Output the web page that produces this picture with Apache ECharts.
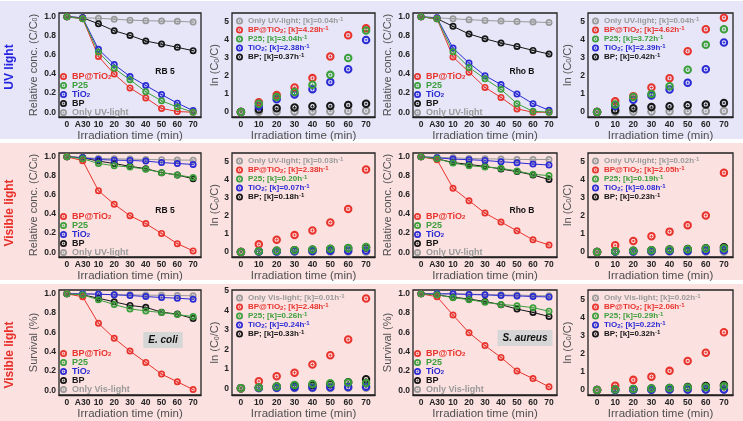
<!DOCTYPE html>
<html lang="en">
<head>
<meta charset="UTF-8"/>
<title>Photocatalytic degradation and kinetics</title>
<script src="https://cdn.jsdelivr.net/npm/echarts@6/dist/echarts.min.js"></script>
<style>
    html, body { margin: 0; padding: 0; background: #fff; }
    #chart { width: 743px; height: 421px; }
</style>
</head>
<body>
<div id="chart"></div>
<script type="text/javascript">
    // x categories
    var concX = ['0', 'A30', '10', '20', '30', '40', '50', '60', '70'];
    var lnX = ['0', '10', '20', '30', '40', '50', '60', '70'];
    var concTicks = [0, 0.2, 0.4, 0.6, 0.8, 1.0];
    var lnTicks = [0, 1, 2, 3, 4, 5];

    // RB 5, UV light, C/C0
    var rb5UvLight  = [1.00, 0.99, 0.985, 0.975, 0.965, 0.96, 0.955, 0.953, 0.945];
    var rb5UvBp     = [1.00, 0.99, 0.927, 0.854, 0.805, 0.746, 0.714, 0.68, 0.645];
    var rb5UvTiO2   = [1.00, 0.99, 0.66, 0.50, 0.375, 0.28, 0.185, 0.095, 0.017];
    var rb5UvP25    = [1.00, 0.98, 0.63, 0.46, 0.34, 0.215, 0.12, 0.055, 0.0];
    var rb5UvBpTiO2 = [1.00, 0.98, 0.585, 0.40, 0.255, 0.15, 0.04, 0.007, 0.0];
    // RB 5, UV light, ln(C0/C)
    var rb5UvKLight  = [0, 0.01, 0.02, 0.03, 0.03, 0.04, 0.05, 0.06];
    var rb5UvKBp     = [0, 0.13, 0.20, 0.25, 0.31, 0.33, 0.38, 0.45];
    var rb5UvKTiO2   = [0, 0.32, 0.70, 0.97, 1.26, 1.65, 2.36, 3.98];
    var rb5UvKP25    = [0, 0.45, 0.82, 1.10, 1.50, 2.05, 2.98, 4.50];
    var rb5UvKBpTiO2 = [0, 0.53, 0.93, 1.35, 1.87, 3.07, 4.24, 4.62];
    var rb5UvK = [0.04, 4.28, 3.04, 2.38, 0.37];

    // Rho B, UV light
    var rhoUvLight  = [1.00, 0.99, 0.98, 0.97, 0.962, 0.955, 0.95, 0.946, 0.94];
    var rhoUvBp     = [1.00, 0.98, 0.90, 0.82, 0.77, 0.725, 0.69, 0.648, 0.61];
    var rhoUvTiO2   = [1.00, 0.99, 0.672, 0.516, 0.383, 0.29, 0.19, 0.09, 0.02];
    var rhoUvP25    = [1.00, 0.98, 0.635, 0.47, 0.35, 0.24, 0.09, 0.01, 0.0];
    var rhoUvBpTiO2 = [1.00, 0.98, 0.58, 0.42, 0.26, 0.155, 0.035, 0.0, 0.0];
    var rhoUvKLight  = [0, 0.01, 0.02, 0.03, 0.04, 0.04, 0.05, 0.06];
    var rhoUvKBp     = [0, 0.10, 0.20, 0.27, 0.32, 0.37, 0.42, 0.50];
    var rhoUvKTiO2   = [0, 0.33, 0.68, 0.92, 1.25, 1.62, 2.37, 3.86];
    var rhoUvKP25    = [0, 0.42, 0.83, 1.00, 1.43, 2.35, 3.73, 4.60];
    var rhoUvKBpTiO2 = [0, 0.59, 0.88, 1.36, 1.88, 3.38, 4.60, 5.24];
    var rhoUvK = [0.04, 4.62, 3.72, 2.39, 0.42];

    // RB 5, visible light
    var rb5VisLight  = [1.00, 0.995, 0.983, 0.98, 0.976, 0.972, 0.97, 0.966, 0.965];
    var rb5VisBp     = [1.00, 0.99, 0.955, 0.93, 0.90, 0.876, 0.834, 0.81, 0.77];
    var rb5VisTiO2   = [1.00, 0.99, 0.972, 0.965, 0.962, 0.955, 0.94, 0.93, 0.92];
    var rb5VisP25    = [1.00, 0.98, 0.93, 0.907, 0.893, 0.87, 0.834, 0.81, 0.783];
    var rb5VisBpTiO2 = [1.00, 0.96, 0.645, 0.503, 0.383, 0.30, 0.197, 0.09, 0.014];
    var rb5VisKLight  = [0, 0.01, 0.01, 0.02, 0.02, 0.02, 0.03, 0.03];
    var rb5VisKBp     = [0, 0.04, 0.07, 0.10, 0.12, 0.16, 0.20, 0.24];
    var rb5VisKTiO2   = [0, 0.02, 0.03, 0.04, 0.05, 0.06, 0.07, 0.08];
    var rb5VisKP25    = [0, 0.04, 0.07, 0.09, 0.13, 0.18, 0.22, 0.27];
    var rb5VisKBpTiO2 = [0, 0.42, 0.68, 0.93, 1.19, 1.63, 2.38, 4.56];
    var rb5VisK = [0.03, 2.38, 0.20, 0.07, 0.18];

    // Rho B, visible light
    var rhoVisLight  = [1.00, 0.995, 0.99, 0.983, 0.98, 0.976, 0.972, 0.972, 0.972];
    var rhoVisBp     = [1.00, 0.98, 0.94, 0.92, 0.90, 0.872, 0.845, 0.81, 0.762];
    var rhoVisTiO2   = [1.00, 0.99, 0.976, 0.97, 0.962, 0.948, 0.938, 0.924, 0.914];
    var rhoVisP25    = [1.00, 0.98, 0.934, 0.907, 0.893, 0.88, 0.852, 0.817, 0.803];
    var rhoVisBpTiO2 = [1.00, 0.97, 0.67, 0.54, 0.41, 0.317, 0.224, 0.13, 0.076];
    var rhoVisKLight  = [0, 0.01, 0.01, 0.01, 0.02, 0.02, 0.02, 0.03];
    var rhoVisKBp     = [0, 0.04, 0.07, 0.10, 0.13, 0.16, 0.20, 0.26];
    var rhoVisKTiO2   = [0, 0.02, 0.03, 0.04, 0.05, 0.06, 0.07, 0.09];
    var rhoVisKP25    = [0, 0.04, 0.07, 0.10, 0.12, 0.15, 0.19, 0.21];
    var rhoVisKBpTiO2 = [0, 0.37, 0.61, 0.87, 1.13, 1.49, 2.03, 4.40];
    var rhoVisK = [0.02, 2.05, 0.19, 0.08, 0.23];

    // E. coli survival
    var ecoliLight  = [1.00, 1.00, 0.995, 0.992, 0.99, 0.987, 0.985, 0.982, 0.98];
    var ecoliBp     = [1.00, 0.99, 0.955, 0.917, 0.88, 0.86, 0.81, 0.79, 0.743];
    var ecoliTiO2   = [1.00, 1.00, 0.997, 0.99, 0.983, 0.972, 0.962, 0.955, 0.944];
    var ecoliP25    = [1.00, 0.99, 0.938, 0.89, 0.844, 0.823, 0.806, 0.785, 0.764];
    var ecoliBpTiO2 = [1.00, 0.97, 0.694, 0.538, 0.406, 0.288, 0.167, 0.087, 0.007];
    var ecoliKLight  = [0, 0.0, 0.01, 0.01, 0.01, 0.01, 0.02, 0.02];
    var ecoliKBp     = [0, 0.04, 0.09, 0.12, 0.15, 0.20, 0.31, 0.46];
    var ecoliKTiO2   = [0, 0.01, 0.02, 0.03, 0.04, 0.05, 0.06, 0.07];
    var ecoliKP25    = [0, 0.04, 0.09, 0.17, 0.22, 0.25, 0.29, 0.27];
    var ecoliKBpTiO2 = [0, 0.36, 0.61, 0.80, 1.22, 1.69, 2.50, 4.61];
    var ecoliK = [0.01, 2.48, 0.26, 0.24, 0.33];

    // S. aureus survival
    var saureusLight  = [1.00, 1.00, 1.00, 0.997, 0.993, 0.99, 0.987, 0.983, 0.98];
    var saureusBp     = [1.00, 0.99, 0.965, 0.947, 0.92, 0.888, 0.842, 0.807, 0.765];
    var saureusTiO2   = [1.00, 1.00, 1.00, 0.993, 0.99, 0.982, 0.979, 0.972, 0.968];
    var saureusP25    = [1.00, 0.99, 0.96, 0.94, 0.912, 0.89, 0.877, 0.856, 0.82];
    var saureusBpTiO2 = [1.00, 0.97, 0.78, 0.596, 0.463, 0.34, 0.20, 0.12, 0.035];
    var saureusKLight  = [0, 0.0, 0.0, 0.01, 0.01, 0.01, 0.02, 0.02];
    var saureusKBp     = [0, 0.04, 0.05, 0.08, 0.11, 0.17, 0.22, 0.27];
    var saureusKTiO2   = [0, 0.0, 0.01, 0.01, 0.02, 0.02, 0.03, 0.03];
    var saureusKP25    = [0, 0.03, 0.05, 0.08, 0.11, 0.14, 0.17, 0.20];
    var saureusKBpTiO2 = [0, 0.24, 0.56, 0.74, 1.06, 1.61, 2.07, 3.20];
    var saureusK = [0.02, 2.06, 0.29, 0.22, 0.32];

    // layout
    var FONT = '"Liberation Sans", Arial, sans-serif';
    var rowTop = [13, 153, 290];
    var rowHeight = [104, 104, 105];
    var colLeft = [59, 232, 413, 588];
    var colWidth = [142, 143, 144, 145];
    var C = {light: '#9a9a9a', bp: '#161616', tio2: '#2a2ad4', p25: '#3b9f3b', bptio2: '#e8332c'};
    // ring with a small cross in the middle
    var MARK = 'path://M0,-10A10,10,0,1,1,0,10A10,10,0,1,1,0,-10Z' +
        'M0,-5.2A5.2,5.2,0,1,0,0,5.2A5.2,5.2,0,1,0,0,-5.2Z' +
        'M-1,-3.1L1,-3.1L1,-1L3.1,-1L3.1,1L1,1L1,3.1L-1,3.1L-1,1L-3.1,1L-3.1,-1L-1,-1Z';

    var grids = [], xAxes = [], yAxes = [], series = [], legends = [], graphics = [];

    function richFor(color) {
        return {
            sub: {fontSize: 6, lineHeight: 3, verticalAlign: 'bottom', color: color, fontWeight: 'bold', fontFamily: FONT},
            sup: {fontSize: 6, lineHeight: 3, verticalAlign: 'top', color: color, fontWeight: 'bold', fontFamily: FONT}
        };
    }
    function fmt(s) {
        return s.replace('TiO2', 'TiO{sub|2}').replace('h-1', 'h{sup|-1}');
    }

    function addGrid(r, c, yName, yGap, yMin, yMax, ticks, xData, digits) {
        var gi = grids.length;
        grids.push({left: colLeft[c], top: rowTop[r], width: colWidth[c], height: rowHeight[r],
            show: true, borderColor: '#222', borderWidth: 1.3, backgroundColor: 'transparent'});
        xAxes.push({
            gridIndex: gi, type: 'category', data: xData, boundaryGap: true,
            name: 'Irradiation time (min)', nameLocation: 'middle', nameGap: 11,
            nameTextStyle: {fontSize: 11.5, fontWeight: 'normal', color: '#505050', fontFamily: FONT},
            axisLine: {onZero: false, lineStyle: {color: '#222', width: 1.3}},
            axisTick: {alignWithLabel: true, length: 3, lineStyle: {color: '#222'}},
            axisLabel: {interval: 0, fontSize: 8.5, fontWeight: 'bold', color: '#222', margin: 3, fontFamily: FONT},
            splitLine: {show: false}
        });
        yAxes.push({
            gridIndex: gi, type: 'value', min: yMin, max: yMax,
            name: yName, nameLocation: 'middle', nameRotate: 90, nameGap: yGap,
            nameTextStyle: {fontSize: 11, fontWeight: 'normal', color: '#505050', fontFamily: FONT,
                rich: {sub: {fontSize: 7, lineHeight: 4, verticalAlign: 'bottom', color: '#505050', fontFamily: FONT}}},
            axisLine: {onZero: false, lineStyle: {color: '#222', width: 1.3}},
            axisTick: {length: 3, customValues: ticks, lineStyle: {color: '#222'}},
            axisLabel: {customValues: ticks, fontSize: 8.5, fontWeight: 'bold', color: '#222', margin: 3, fontFamily: FONT,
                formatter: function (v) { return v.toFixed(digits); }},
            splitLine: {show: false}
        });
        return gi;
    }

    function concPanel(r, c, light, bp, tio2, p25, bptio2, lightName, yName) {
        var gi = addGrid(r, c, yName, 20, -0.05, 1.04, concTicks, concX, 1);
        var set = [[lightName, light, C.light], ['BP', bp, C.bp], ['TiO2', tio2, C.tio2],
                   ['BP@TiO2', bptio2, C.bptio2], ['P25', p25, C.p25]];
        set.forEach(function (s) {
            series.push({type: 'line', name: s[0], xAxisIndex: gi, yAxisIndex: gi, data: s[1],
                symbol: MARK, symbolSize: 7, lineStyle: {width: 1, color: s[2]}, itemStyle: {color: s[2]}});
        });
        var order = [['BP@TiO2', C.bptio2], ['P25', C.p25], ['TiO2', C.tio2], ['BP', C.bp], [lightName, C.light]];
        legends.push({
            orient: 'vertical', left: colLeft[c] + 1, top: rowTop[r] + 59, padding: 0, itemGap: 0,
            itemWidth: 7, itemHeight: 7, icon: MARK, selectedMode: false,
            textStyle: {fontSize: 9, fontWeight: 'bold', lineHeight: 8.6, fontFamily: FONT},
            formatter: fmt,
            data: order.map(function (o) {
                return {name: o[0], textStyle: {color: o[1], rich: richFor(o[1])}};
            })
        });
    }

    function lnPanel(r, c, light, bp, tio2, p25, bptio2, k, lightName, yMin, yMax, yGap) {
        var gi = addGrid(r, c, 'ln (C{sub|0}/C)', yGap, yMin, yMax, lnTicks, lnX, 0);
        function nm(label, v) { return label + '; [k]=' + v.toFixed(2) + 'h-1'; }
        var names = {light: nm(lightName, k[0]), bptio2: nm('BP@TiO2', k[1]), p25: nm('P25', k[2]),
                     tio2: nm('TiO2', k[3]), bp: nm('BP', k[4])};
        var set = [['light', light], ['bp', bp], ['tio2', tio2], ['bptio2', bptio2], ['p25', p25]];
        set.forEach(function (s) {
            series.push({type: 'scatter', name: names[s[0]], xAxisIndex: gi, yAxisIndex: gi, data: s[1],
                symbol: MARK, symbolSize: 8.5, itemStyle: {color: C[s[0]], opacity: 1}});
        });
        legends.push({
            orient: 'vertical', left: colLeft[c] + 4, top: rowTop[r] + 3.5, padding: 0, itemGap: 0,
            itemWidth: 7, itemHeight: 7, icon: MARK, selectedMode: false,
            textStyle: {fontSize: 8, fontWeight: 'bold', lineHeight: 9, fontFamily: FONT},
            formatter: fmt,
            data: ['light', 'bptio2', 'p25', 'tio2', 'bp'].map(function (key) {
                return {name: names[key], textStyle: {color: C[key], rich: richFor(C[key])}};
            })
        });
    }

    var concName = 'Relative conc. (C/C{sub|0})';
    concPanel(0, 0, rb5UvLight, rb5UvBp, rb5UvTiO2, rb5UvP25, rb5UvBpTiO2, 'Only UV-light', concName);
    lnPanel(0, 1, rb5UvKLight, rb5UvKBp, rb5UvKTiO2, rb5UvKP25, rb5UvKBpTiO2, rb5UvK, 'Only UV-light', -0.28, 5.47, 11);
    concPanel(0, 2, rhoUvLight, rhoUvBp, rhoUvTiO2, rhoUvP25, rhoUvBpTiO2, 'Only UV-light', concName);
    lnPanel(0, 3, rhoUvKLight, rhoUvKBp, rhoUvKTiO2, rhoUvKP25, rhoUvKBpTiO2, rhoUvK, 'Only UV-light', -0.28, 5.5, 15);

    concPanel(1, 0, rb5VisLight, rb5VisBp, rb5VisTiO2, rb5VisP25, rb5VisBpTiO2, 'Only UV-light', concName);
    lnPanel(1, 1, rb5VisKLight, rb5VisKBp, rb5VisKTiO2, rb5VisKP25, rb5VisKBpTiO2, rb5VisK, 'Only UV-light', -0.28, 5.47, 11);
    concPanel(1, 2, rhoVisLight, rhoVisBp, rhoVisTiO2, rhoVisP25, rhoVisBpTiO2, 'Only UV-light', concName);
    lnPanel(1, 3, rhoVisKLight, rhoVisKBp, rhoVisKTiO2, rhoVisKP25, rhoVisKBpTiO2, rhoVisK, 'Only UV-light', -0.28, 5.5, 15);

    concPanel(2, 0, ecoliLight, ecoliBp, ecoliTiO2, ecoliP25, ecoliBpTiO2, 'Only Vis-light', 'Survival (%)');
    lnPanel(2, 1, ecoliKLight, ecoliKBp, ecoliKTiO2, ecoliKP25, ecoliKBpTiO2, ecoliK, 'Only Vis-light', -0.35, 5.05, 11);
    concPanel(2, 2, saureusLight, saureusBp, saureusTiO2, saureusP25, saureusBpTiO2, 'Only Vis-light', 'Survival (%)');
    lnPanel(2, 3, saureusKLight, saureusKBp, saureusKTiO2, saureusKP25, saureusKBpTiO2, saureusK, 'Only Vis-light', -0.28, 5.55, 15);

    // row backgrounds
    graphics.push({type: 'rect', z: -10, shape: {x: 0, y: 1, width: 743, height: 138}, style: {fill: '#e6e6f8'}});
    graphics.push({type: 'rect', z: -10, shape: {x: 0, y: 143, width: 743, height: 137}, style: {fill: '#fce1e1'}});
    graphics.push({type: 'rect', z: -10, shape: {x: 0, y: 284, width: 743, height: 137}, style: {fill: '#fce1e1'}});

    // row labels
    [['UV light', '#2424e0', 67], ['Visible light', '#e8302a', 213], ['Visible light', '#e8302a', 355]].forEach(function (t) {
        graphics.push({type: 'text', z: 100, x: 10, y: t[2], rotation: Math.PI / 2,
            style: {text: t[0], fill: t[1], font: 'bold 12px ' + FONT, align: 'center', verticalAlign: 'middle'}});
    });

    // sample labels
    [['RB 5', 165, 72], ['Rho B', 522, 72], ['RB 5', 165, 211], ['Rho B', 522, 211]].forEach(function (t) {
        graphics.push({type: 'text', z: 100, x: t[1], y: t[2],
            style: {text: t[0], fill: '#111', font: 'bold 8.5px ' + FONT, align: 'center', verticalAlign: 'middle'}});
    });
    [['E. coli', 163, 340], ['S. aureus', 525, 338]].forEach(function (t) {
        graphics.push({type: 'text', z: 100, x: t[1], y: t[2],
            style: {text: t[0], fill: '#111', font: 'italic bold 10px ' + FONT, align: 'center', verticalAlign: 'middle',
                backgroundColor: '#d6d6d6', padding: [3, 5, 3, 5]}});
    });

    var myChart = echarts.init(document.getElementById('chart'), null, {renderer: 'canvas'});
    var option = {
        backgroundColor: '#ffffff',
        animation: false,
        textStyle: {fontFamily: FONT},
        grid: grids,
        xAxis: xAxes,
        yAxis: yAxes,
        legend: legends,
        series: series,
        graphic: {elements: graphics}
    };
    myChart.setOption(option);
</script>
</body>
</html>
